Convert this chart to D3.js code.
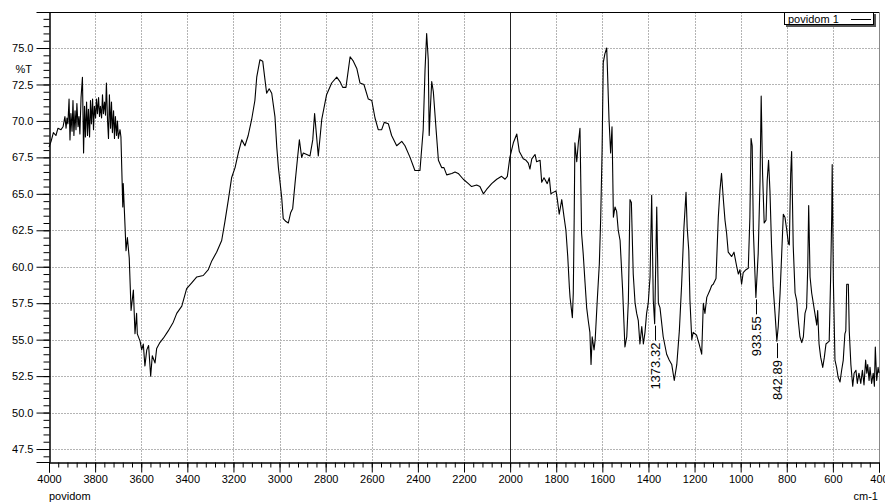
<!DOCTYPE html>
<html>
<head>
<meta charset="utf-8">
<script src="https://cdn.jsdelivr.net/npm/d3@7"></script>
<style>
  html, body { margin: 0; padding: 0; background: #fff; }
  svg text { font-family: "Liberation Sans", Arial, sans-serif; fill: #000; }
</style>
</head>
<body>
<svg id="chart" width="885" height="503"></svg>
<script>
// ---- data ----
const wavenumber = [
  4000,3991,3981,3970,3961,3948,3939,3931,3926,3922,3918,3913,3909,3905,3900,3896,3892,3887,3883,3879,
  3874,3870,3866,3861,3855,3850,3846,3842,3837,3833,3829,3824,3820,3816,3811,3807,3803,3798,3794,3790,
  3785,3781,3777,3772,3768,3764,3759,3755,3751,3746,3742,3738,3733,3729,3725,3720,3716,3712,3707,3703,
  3699,3692,3688,3680,3678,3670,3666,3660,3652,3644,3634,3627,3620,3617,3605,3598,3591,3584,3576,3568,
  3559,3552,3540,3533,3519,3504,3483,3461,3446,3424,3403,3381,3359,3331,3309,3294,3273,3251,3237,3222,
  3208,3193,3179,3164,3150,3136,3121,3107,3099,3085,3073,3063,3056,3045,3034,3020,3012,3005,2991,2984,
  2972,2962,2952,2943,2933,2923,2914,2904,2897,2882,2868,2856,2848,2832,2817,2796,2774,2752,2738,2726,
  2712,2694,2680,2665,2651,2634,2615,2600,2586,2572,2557,2546,2528,2514,2492,2470,2456,2434,2413,2391,
  2377,2369,2362,2355,2351,2347,2340,2333,2321,2311,2297,2287,2275,2253,2239,2225,2203,2181,2167,2145,
  2131,2116,2102,2080,2058,2037,2022,2012,2001,1986,1971,1960,1943,1931,1921,1914,1906,1892,1885,1870,
  1863,1853,1839,1830,1823,1813,1801,1795,1787,1776,1766,1758,1750,1743,1740,1730,1726,1722,1719,1711,
  1704,1697,1690,1683,1675,1668,1661,1654,1649,1644,1636,1631,1622,1613,1607,1601,1596,1589,1581,1577,
  1571,1564,1558,1552,1545,1538,1531,1523,1512,1502,1494,1487,1480,1474,1466,1458,1451,1444,1437,1429,
  1422,1415,1408,1401,1393,1386,1379,1373,1364,1357,1350,1336,1321,1310,1299,1288,1277,1266,1256,1246,
  1237,1232,1225,1220,1212,1206,1191,1180,1169,1162,1155,1147,1133,1126,1119,1107,1097,1090,1083,1075,
  1068,1061,1054,1039,1029,1017,1010,1003,996,989,977,967,960,955,950,945,938,934,924,916,
  911,905,898,890,885,879,873,866,859,851,843,837,829,822,815,808,800,793,789,783,
  779,772,764,757,750,743,735,728,721,714,709,705,699,692,685,678,670,666,660,653,
  644,637,630,623,616,610,605,603,598,591,584,577,569,562,555,548,544,540,533,529,
  522,514,508,500,494,487,479,472,465,458,453,449,443,439,432,425,420,416,410,404,400
];
const transmittance = [
  68.2,68.6,69.2,69.0,69.5,69.4,69.6,70.3,69.5,70.2,69.8,71.5,68.7,70.5,69.3,71.4,69.0,70.7,69.4,71.2,
  69.6,70.3,69.1,71.6,73.0,67.8,71.0,68.9,71.3,69.0,70.8,68.9,71.4,69.8,71.5,69.4,71.0,70.2,71.5,70.5,
  71.6,70.3,71.0,70.2,71.8,70.5,71.3,70.4,72.6,70.0,68.8,71.8,69.5,71.3,69.2,70.7,68.8,70.3,69.0,70.0,
  68.8,69.4,68.9,64.1,65.7,62.7,61.1,62.0,60.6,57.0,58.4,55.4,56.8,55.4,54.9,54.3,54.7,53.2,54.3,54.6,
  52.5,53.9,53.4,54.4,54.8,55.1,55.6,56.2,56.8,57.3,58.5,58.9,59.3,59.4,59.8,60.4,61.0,61.8,63.1,64.6,
  66.1,66.8,67.8,68.7,68.3,69.0,70.1,71.4,73.0,74.2,74.1,72.8,71.9,72.2,71.9,70.3,68.2,66.8,64.8,63.3,
  63.1,63.0,63.7,64.0,65.7,67.3,68.7,67.5,67.8,67.7,67.6,68.7,70.5,67.6,70.1,71.8,72.6,73.0,72.7,72.3,
  72.3,74.4,74.1,73.6,72.6,72.5,71.5,71.4,70.2,69.4,69.4,69.9,69.8,69.0,68.3,68.6,68.3,67.5,66.6,66.6,
  69.4,73.5,76.0,74.2,69.0,70.5,72.7,72.0,69.4,67.3,66.8,66.8,66.3,66.4,66.5,66.4,66.0,65.7,65.5,65.6,
  65.5,65.0,65.3,65.7,66.0,66.2,66.0,66.2,67.5,68.5,69.1,67.9,67.4,67.3,67.1,66.7,67.4,67.7,67.2,67.3,
  65.8,66.1,65.7,66.1,65.0,65.1,65.2,64.6,63.6,64.6,63.4,62.5,60.7,58.6,57.9,56.5,58.2,63.4,68.5,67.2,
  68.5,69.5,62.3,60.9,58.9,57.2,56.3,55.5,53.3,55.2,54.3,55.0,57.7,60.2,63.4,68.0,74.0,74.6,75.0,73.1,
  70.1,67.8,69.6,63.4,64.1,63.8,62.5,61.8,58.4,54.5,55.2,57.7,64.6,64.4,59.5,57.5,56.8,56.3,54.7,55.9,
  54.7,55.5,56.8,57.5,59.3,64.9,57.7,56.1,64.1,57.5,57.2,55.2,54.0,53.6,53.3,52.2,53.3,55.6,58.8,62.7,
  65.1,62.7,61.1,57.7,55.0,55.5,55.3,54.7,54.0,57.5,56.8,57.9,58.4,58.7,58.8,59.2,63.4,65.2,66.4,64.6,
  63.2,62.3,61.0,60.7,61.0,60.0,59.5,59.8,58.8,59.6,59.8,59.9,63.4,68.8,68.3,62.5,59.5,57.9,60.9,65.9,
  71.7,66.4,63.0,63.2,65.9,67.3,65.2,61.4,58.6,56.8,54.9,55.9,58.2,60.9,63.6,63.4,62.5,61.6,61.5,66.4,
  67.9,61.4,58.2,57.7,56.3,55.2,54.8,55.2,56.8,57.2,60.0,64.2,59.3,58.2,57.5,56.8,56.0,57.0,54.7,53.8,
  53.1,53.8,54.7,54.8,54.9,59.1,63.6,67.0,59.1,53.6,53.1,52.4,52.1,52.9,53.6,55.4,55.6,58.8,58.8,55.6,
  53.3,51.8,52.7,52.9,52.0,52.7,52.0,52.9,51.9,53.6,52.7,53.3,52.2,53.1,52.0,52.7,51.8,54.5,52.2,53.1,52.7
];
const peakLabels = ["1373.32", "933.55", "842.89"];
const peakPositions = [1373.32, 933.55, 842.89];
const peakValues = [56.1, 57.9, 54.9];
const xMajorTicks = [4000,3800,3600,3400,3200,3000,2800,2600,2400,2200,2000,1800,1600,1400,1200,1000,800,600,400];
const yMajorTicks = [47.5,50.0,52.5,55.0,57.5,60.0,62.5,65.0,67.5,70.0,72.5,75.0];
const seriesName = "povidom 1";
const sampleName = "povidom";
const xUnit = "cm-1";
const yUnit = "%T";

// ---- layout ----
const svg = d3.select("#chart");
const L = 49, R = 879, T = 12, B = 462;
const x = d3.scaleLinear().domain([4000, 400]).range([L, R]);
const y = d3.scaleLinear().domain([46.61, 77.47]).range([B, T]);

const xMinor = d3.range(4000, 399, -40);
const yMinor = d3.range(47, 77.01, 0.5);

// grid
const grid = svg.append("g");
grid.selectAll(".gy").data(yMajorTicks).join("line")
  .attr("x1", L).attr("x2", R)
  .attr("y1", d => Math.round(y(d)) + 0.5).attr("y2", d => Math.round(y(d)) + 0.5)
  .attr("stroke", "#b4b4b4").attr("stroke-width", 1).attr("stroke-dasharray", "2,1");
grid.selectAll(".gx").data(xMajorTicks.filter(d => d !== 4000 && d !== 400 && d !== 2000)).join("line")
  .attr("x1", d => Math.round(x(d)) + 0.5).attr("x2", d => Math.round(x(d)) + 0.5)
  .attr("y1", T).attr("y2", B)
  .attr("stroke", "#b4b4b4").attr("stroke-width", 1).attr("stroke-dasharray", "2,1");
// solid line at 2000
grid.append("line")
  .attr("x1", Math.round(x(2000)) + 0.5).attr("x2", Math.round(x(2000)) + 0.5)
  .attr("y1", T).attr("y2", B).attr("stroke", "#222").attr("stroke-width", 1);

// frame top & right
svg.append("line").attr("x1", L).attr("x2", R + 0.5).attr("y1", T + 0.5).attr("y2", T + 0.5)
  .attr("stroke", "#000").attr("stroke-width", 1);
svg.append("line").attr("x1", R + 0.5).attr("x2", R + 0.5).attr("y1", T).attr("y2", B)
  .attr("stroke", "#888").attr("stroke-width", 1);

// axes
const yAxisMinor = d3.axisLeft(y).tickValues(yMinor).tickSize(6).tickFormat("");
const yAxis = d3.axisLeft(y).tickValues(yMajorTicks).tickSize(13).tickPadding(3).tickFormat(d3.format(".1f"));
const xAxisMinor = d3.axisBottom(x).tickValues(xMinor).tickSize(5).tickFormat("");
const xAxis = d3.axisBottom(x).tickValues(xMajorTicks).tickSize(10).tickPadding(3).tickFormat(d3.format("d"));

function styleAxis(g) {
  g.select(".domain").attr("stroke", "#000");
  g.selectAll(".tick line").attr("stroke", "#000");
  g.selectAll("text").attr("font-size", 11).attr("font-family", '"Liberation Sans", Arial, sans-serif').attr("fill", "#000");
}
svg.append("g").attr("transform", `translate(${L + 0.5},0)`).call(yAxisMinor).call(styleAxis);
svg.append("g").attr("transform", `translate(${L + 0.5},0)`).call(yAxis).call(styleAxis);
svg.append("g").attr("transform", `translate(0,${B + 0.5})`).call(xAxisMinor).call(styleAxis);
svg.append("g").attr("transform", `translate(0,${B + 0.5})`).call(xAxis).call(styleAxis);

// axis labels
svg.append("text").attr("x", 32).attr("y", 73).attr("text-anchor", "end").attr("font-size", 11).text(yUnit);
svg.append("text").attr("x", 49).attr("y", 500).attr("text-anchor", "start").attr("font-size", 11).text(sampleName);
svg.append("text").attr("x", 878).attr("y", 500).attr("text-anchor", "end").attr("font-size", 11).text(xUnit);

// spectrum
const pts = wavenumber.map((w, i) => [w, transmittance[i]]);
const line = d3.line().x(d => x(d[0])).y(d => y(d[1]));
svg.append("path").datum(pts)
  .attr("d", line).attr("fill", "none").attr("stroke", "#000").attr("stroke-width", 1.1)
  .attr("stroke-linejoin", "round");

// peak annotations
const peaks = peakLabels.map((t, i) => ({ t, w: peakPositions[i], v: peakValues[i] }));
const pg = svg.append("g");
pg.selectAll("line").data(peaks).join("line")
  .attr("x1", d => Math.round(x(d.w)) + 0.5).attr("x2", d => Math.round(x(d.w)) + 0.5)
  .attr("y1", d => y(d.v) + 2).attr("y2", d => y(d.v) + 17)
  .attr("stroke", "#000").attr("stroke-width", 1);
pg.selectAll("text").data(peaks).join("text")
  .attr("transform", d => `translate(${x(d.w) + 0.5},${y(d.v) + 19}) rotate(-90)`)
  .attr("text-anchor", "end").attr("dy", "0.36em")
  .attr("font-size", 13).text(d => d.t);

// legend
const lg = svg.append("g");
lg.append("rect").attr("x", 786).attr("y", 14).attr("width", 90).attr("height", 13).attr("fill", "#555");
lg.append("rect").attr("x", 784.5).attr("y", 12.5).attr("width", 89).attr("height", 12).attr("fill", "#fff").attr("stroke", "#000");
lg.append("text").attr("x", 788).attr("y", 23).attr("font-size", 11).text(seriesName);
lg.append("line").attr("x1", 851).attr("x2", 871).attr("y1", 19.5).attr("y2", 19.5).attr("stroke", "#000");
</script>
</body>
</html>
